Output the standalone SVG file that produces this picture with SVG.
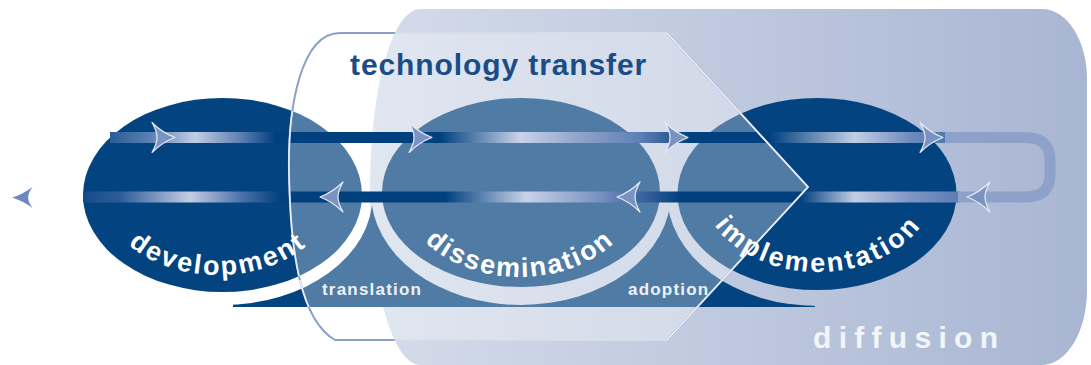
<svg xmlns="http://www.w3.org/2000/svg" width="1091" height="365" viewBox="0 0 1091 365">
  <defs>
    <style>
      .lbl { font-family: "Liberation Sans", Arial, sans-serif; font-weight: bold; fill: #ffffff; }
      .arc { font-size: 27px; }
      .small { font-size: 17px; letter-spacing: 1.2px; fill: #eef2f8; }
      .navy { fill: #03437f; }
      .ah { fill: #7b93c3; stroke: #e6ecf6; stroke-width: 1.2; stroke-linejoin: round; }
    </style>
    <linearGradient id="gDiff" gradientUnits="userSpaceOnUse" x1="370" y1="0" x2="1087" y2="0">
      <stop offset="0" stop-color="#d4dcea"/>
      <stop offset="1" stop-color="#a9b6d3"/>
    </linearGradient>
    <linearGradient id="gTop" gradientUnits="userSpaceOnUse" x1="110" y1="0" x2="945" y2="0">
      <stop offset="0" stop-color="#2a5c97"/>
      <stop offset="0.048" stop-color="#5a80b5"/>
      <stop offset="0.102" stop-color="#c2cde4"/>
      <stop offset="0.156" stop-color="#5d80b4"/>
      <stop offset="0.198" stop-color="#00407f"/>
      <stop offset="0.395" stop-color="#00407f"/>
      <stop offset="0.491" stop-color="#c8d2e8"/>
      <stop offset="0.563" stop-color="#8fa3cb"/>
      <stop offset="0.635" stop-color="#5d7fb4"/>
      <stop offset="0.671" stop-color="#2d5a96"/>
      <stop offset="0.695" stop-color="#00407f"/>
      <stop offset="0.79" stop-color="#00407f"/>
      <stop offset="0.892" stop-color="#c3cee5"/>
      <stop offset="0.958" stop-color="#6d8cbe"/>
      <stop offset="1" stop-color="#5478af"/>
    </linearGradient>
    <linearGradient id="gBot" gradientUnits="userSpaceOnUse" x1="83" y1="0" x2="960" y2="0">
      <stop offset="0" stop-color="#154b8a"/>
      <stop offset="0.042" stop-color="#2d5d98"/>
      <stop offset="0.122" stop-color="#c2cde4"/>
      <stop offset="0.179" stop-color="#4f74aa"/>
      <stop offset="0.225" stop-color="#00407f"/>
      <stop offset="0.413" stop-color="#00407f"/>
      <stop offset="0.505" stop-color="#c8d2e8"/>
      <stop offset="0.59" stop-color="#7890c0"/>
      <stop offset="0.61" stop-color="#5c7db3"/>
      <stop offset="0.664" stop-color="#1a4d8b"/>
      <stop offset="0.681" stop-color="#00407f"/>
      <stop offset="0.818" stop-color="#00407f"/>
      <stop offset="0.88" stop-color="#c3cee5"/>
      <stop offset="0.943" stop-color="#7e96c4"/>
      <stop offset="1" stop-color="#5a7db2"/>
    </linearGradient>
    <mask id="baseMask" maskUnits="userSpaceOnUse" x="0" y="0" width="1091" height="365">
      <rect x="0" y="0" width="1091" height="365" fill="#fff"/>
      <ellipse cx="222.5" cy="196" rx="150" ry="109" fill="#000"/>
      <ellipse cx="521" cy="193" rx="150" ry="112" fill="#000"/>
      <ellipse cx="817" cy="194" rx="150" ry="112" fill="#000"/>
    </mask>
    <clipPath id="lightClip">
      <path d="M 420 9 H 1042 A 45 70 0 0 1 1087 79 V 290 A 45 75 0 0 1 1042 365 H 420 A 50 178 0 0 1 420 9 Z"/>
      <ellipse cx="222.5" cy="195" rx="139.5" ry="97"/>
      <rect x="233" y="280" width="80" height="27"/>
    </clipPath>
    <path id="ttShape" d="M 340 33 H 667 L 808 187 L 667 340 H 335 C 300 320 290 250 289 170 C 288 110 300 33 340 33 Z"/>
    <path id="arrowR" d="M 0 0 C -8 -3 -16 -8 -23 -15 C -19 -8 -18 -4 -18 0 C -18 4 -19 8 -23 15 C -16 8 -8 3 0 0 Z"/>
    <path id="pDev" d="M 98 185 A 120 90 0 0 0 338 185"/>
    <path id="pDis" d="M 398 183 A 122 94 0 0 0 642 183"/>
    <path id="pImp" d="M 700 182 A 118 90 0 0 0 936 182"/>
  </defs>

  <g id="diffusion">
    <path d="M 420 9 H 1042 A 45 70 0 0 1 1087 79 V 290 A 45 75 0 0 1 1042 365 H 420 A 50 178 0 0 1 420 9 Z" fill="url(#gDiff)"/>
    <text class="lbl" x="813" y="348" style="font-size:30px; letter-spacing:7.3px; fill:#f2f5fa;">diffusion</text>
  </g>

  <g id="base">
    <rect class="navy" x="233" y="205" width="582" height="102" mask="url(#baseMask)"/>
  </g>

  <g id="development">
    <ellipse class="navy" cx="222.5" cy="195" rx="139.5" ry="97"/>
  </g>
  <g id="dissemination">
    <ellipse class="navy" cx="521" cy="192.5" rx="139" ry="94.5"/>
  </g>
  <g id="implementation">
    <ellipse class="navy" cx="817" cy="194" rx="139.5" ry="96"/>
  </g>

  <g id="technology-transfer-fill">
    <use href="#ttShape" fill="#ffffff" fill-opacity="0.3"/>
  </g>

  <g id="connectors">
    <rect x="110" y="132" width="835" height="11" fill="url(#gTop)"/>
    <rect x="83" y="191.5" width="877" height="11" fill="url(#gBot)"/>
    <path d="M 945 137.5 H 1025 Q 1050 137.5 1050 160 V 175 Q 1050 197 1025 197 H 958" fill="none" stroke="#8ea2c9" stroke-width="11"/>
    <use href="#arrowR" class="ah" transform="translate(175 137.5)"/>
    <use href="#arrowR" class="ah" transform="translate(432 137.5)"/>
    <use href="#arrowR" class="ah" transform="translate(688 137.5)"/>
    <use href="#arrowR" class="ah" transform="translate(943 137.5)"/>
    <use href="#arrowR" class="ah" transform="translate(967 197) scale(-1 1)"/>
    <use href="#arrowR" class="ah" transform="translate(617 197) scale(-1 1)"/>
    <use href="#arrowR" class="ah" transform="translate(320 197) scale(-1 1)"/>
    <use href="#arrowR" transform="translate(12 197.5) scale(-0.9 0.72)" fill="#6b88bf"/>
  </g>

  <g id="technology-transfer">
    <use href="#ttShape" fill="none" stroke="#8aa0c9" stroke-width="2"/>
    <use href="#ttShape" fill="none" stroke="#eef2f8" stroke-width="1.6" clip-path="url(#lightClip)"/>
    <text class="lbl" x="350" y="75" style="font-size:30px; letter-spacing:0.9px; fill:#1a4c87;">technology transfer</text>
  </g>

  <g id="labels">
    <text class="lbl arc" style="letter-spacing:2.4px;"><textPath href="#pDev" startOffset="50%" text-anchor="middle">development</textPath></text>
    <text class="lbl arc" style="letter-spacing:2px;"><textPath href="#pDis" startOffset="50%" text-anchor="middle">dissemination</textPath></text>
    <text class="lbl arc" style="letter-spacing:2.6px;"><textPath href="#pImp" startOffset="50%" text-anchor="middle">implementation</textPath></text>
    <text class="lbl small" x="322" y="295">translation</text>
    <text class="lbl small" x="628" y="295">adoption</text>
  </g>
</svg>
